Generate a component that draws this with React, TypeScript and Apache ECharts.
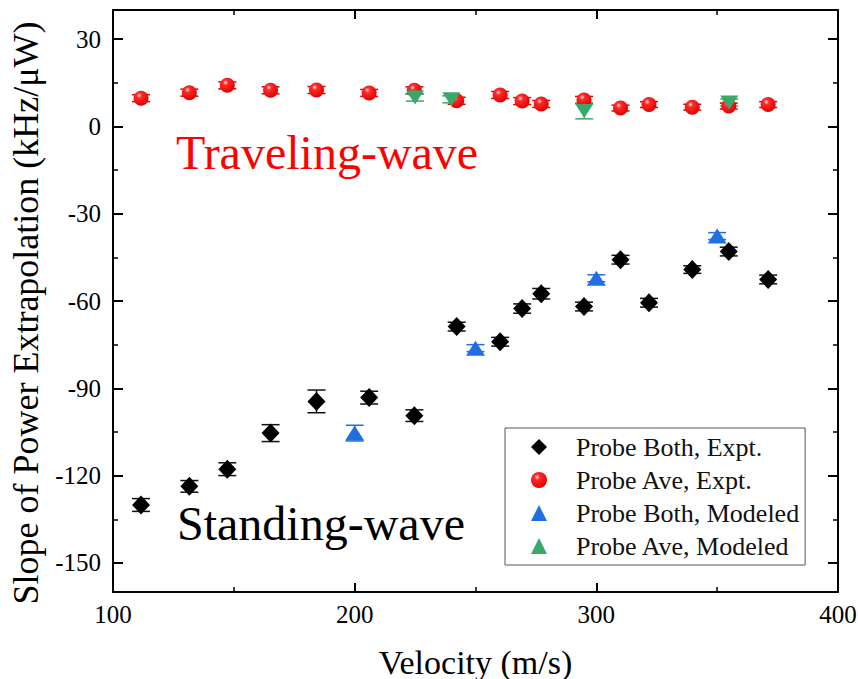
import React, { useEffect, useRef } from "react";
import * as echarts from "echarts";

const velocity = [111.6, 131.6, 147.3, 165.2, 184.2, 206.0, 224.7, 242.2, 260.2, 269.3, 277.2, 294.9, 310.0, 321.8, 339.7, 354.8, 371.1];
const bothExptY = [-130.1, -123.7, -117.8, -105.4, -94.5, -93.2, -99.4, -68.8, -74.0, -62.6, -57.5, -61.9, -45.8, -60.6, -49.2, -43.0, -52.6];
const bothExptErr = [2.2, 2.0, 2.2, 2.9, 3.9, 2.2, 2.0, 1.5, 1.5, 1.6, 1.8, 1.5, 1.5, 1.5, 1.3, 1.5, 1.5];
const aveExptY = [9.7, 11.6, 14.1, 12.4, 12.5, 11.5, 12.4, 8.8, 10.8, 8.7, 7.7, 9.1, 6.3, 7.5, 6.6, 7.0, 7.5];
const aveExptErr = [1.2, 1.2, 1.2, 1.2, 1.2, 1.2, 1.2, 1.2, 1.2, 1.2, 1.2, 1.2, 1.0, 1.0, 1.0, 1.0, 1.0];

const bothModeledX = [200, 250, 300, 350];
const bothModeledY = [-105.4, -76.2, -52.2, -37.7];
const bothModeledErr = [2.7, 1.2, 1.2, 1.2];

const aveModeledX = [225, 240, 295, 355];
const aveModeledY = [9.9, 9.3, 5.3, 8.2];
const aveModeledErr = [1.2, 1.2, 2.7, 1.2];

const yMajorTicks = [-150, -120, -90, -60, -30, 0, 30];
const yMinorTicks = [-135, -105, -75, -45, -15, 15];

const seriesNames = ["Probe Both, Expt.", "Probe Ave, Expt.", "Probe Both, Modeled", "Probe Ave, Modeled"];

const FONT = "Liberation Serif, Times New Roman, serif";

function pts(xs: number[], ys: number[]) {
  return xs.map((x, i) => [x, ys[i]]);
}
function errPts(xs: number[], ys: number[], es: number[]) {
  return xs.map((x, i) => [x, ys[i], es[i]]);
}

function errorSeries(name: string, data: number[][], color: string) {
  return {
    type: "custom",
    name,
    silent: true,
    z: 1,
    encode: { x: 0, y: 1 },
    data,
    renderItem: (params: any, api: any) => {
      const x = api.value(0);
      const y = api.value(1);
      const e = api.value(2);
      const top = api.coord([x, y + e]);
      const bot = api.coord([x, y - e]);
      const hw = 9;
      const st = { stroke: color, lineWidth: 1.5 };
      return {
        type: "group",
        children: [
          { type: "line", shape: { x1: top[0], y1: top[1], x2: bot[0], y2: bot[1] }, style: st },
          { type: "line", shape: { x1: top[0] - hw, y1: top[1], x2: top[0] + hw, y2: top[1] }, style: st },
          { type: "line", shape: { x1: bot[0] - hw, y1: bot[1], x2: bot[0] + hw, y2: bot[1] }, style: st },
        ],
      };
    },
  };
}

export default function App() {
  const ref = useRef<HTMLDivElement>(null);
  useEffect(() => {
    if (!ref.current) return;
    const chart = echarts.init(ref.current, null, { renderer: "svg" });
    const axisLine = { show: true, onZero: false, lineStyle: { color: "#000", width: 2 } };
    const noLine = { show: false, onZero: false };
    const redGrad = {
      type: "radial",
      x: 0.38,
      y: 0.32,
      r: 0.7,
      colorStops: [
        { offset: 0, color: "#ffe0e0" },
        { offset: 0.25, color: "#ff2a2a" },
        { offset: 1, color: "#e00000" },
      ],
    };
    const option: any = {
      animation: false,
      backgroundColor: "#fff",
      textStyle: { fontFamily: FONT },
      grid: { left: 113, right: 20, top: 10, bottom: 87, containLabel: false, outerBoundsMode: "none" },
      legend: {
        data: seriesNames,
        orient: "vertical",
        left: 505,
        top: 428,
        itemWidth: 16,
        itemHeight: 16,
        itemGap: 7,
        padding: [6, 6, 6, 26],
        borderColor: "#555",
        borderWidth: 1,
        textStyle: { fontFamily: FONT, fontSize: 26, lineHeight: 26, color: "#111", padding: [0, 0, 0, 24] },
      },
      xAxis: [
        {
          type: "value",
          position: "bottom",
          min: 100,
          max: 400,
          interval: 100,
          axisLine,
          axisTick: { show: true, inside: true, length: 9, lineStyle: { color: "#000", width: 2 } },
          minorTick: { show: true, splitNumber: 2, length: 5, lineStyle: { color: "#000", width: 1.5 } },
          splitLine: { show: false },
          axisLabel: { color: "#000", fontSize: 25, fontFamily: FONT, margin: 10 },
          name: "Velocity (m/s)",
          nameLocation: "middle",
          nameGap: 53,
          nameTextStyle: { color: "#000", fontSize: 34, fontFamily: FONT },
        },
        {
          type: "value",
          position: "top",
          min: 100,
          max: 400,
          interval: 100,
          axisLine,
          axisTick: { show: true, inside: true, length: 9, lineStyle: { color: "#000", width: 2 } },
          minorTick: { show: true, splitNumber: 2, length: 5, lineStyle: { color: "#000", width: 1.5 } },
          splitLine: { show: false },
          axisLabel: { show: false },
        },
      ],
      yAxis: [
        {
          type: "value",
          position: "left",
          min: -160,
          max: 40,
          axisLine,
          axisTick: { show: true, inside: true, length: 10, customValues: yMajorTicks, lineStyle: { color: "#000", width: 2 } },
          splitLine: { show: false },
          axisLabel: { color: "#000", fontSize: 25, fontFamily: FONT, margin: 12, customValues: yMajorTicks },
          name: "Slope of Power Extrapolation (kHz/\u03bcW)",
          nameLocation: "middle",
          nameGap: 51,
          nameTextStyle: { color: "#000", fontSize: 36, fontFamily: FONT, padding: [0, 24, 0, 0] },
        },
        {
          type: "value",
          position: "left",
          min: -160,
          max: 40,
          axisLine: noLine,
          axisTick: { show: true, inside: true, length: 5, customValues: yMinorTicks, lineStyle: { color: "#000", width: 1.5 } },
          splitLine: { show: false },
          axisLabel: { show: false },
        },
        {
          type: "value",
          position: "right",
          min: -160,
          max: 40,
          axisLine,
          axisTick: { show: true, inside: true, length: 10, customValues: yMajorTicks, lineStyle: { color: "#000", width: 2 } },
          splitLine: { show: false },
          axisLabel: { show: false },
        },
        {
          type: "value",
          position: "right",
          min: -160,
          max: 40,
          axisLine: noLine,
          axisTick: { show: true, inside: true, length: 5, customValues: yMinorTicks, lineStyle: { color: "#000", width: 1.5 } },
          splitLine: { show: false },
          axisLabel: { show: false },
        },
      ],
      graphic: [
        {
          type: "text",
          left: 176,
          top: 128,
          style: { text: "Traveling-wave", fill: "#ff0000", fontSize: 48, fontFamily: FONT },
        },
        {
          type: "text",
          left: 177,
          top: 499,
          style: { text: "Standing-wave", fill: "#000", fontSize: 48, fontFamily: FONT },
        },
      ],
      series: [
        errorSeries("errBothExpt", errPts(velocity, bothExptY, bothExptErr), "#111"),
        errorSeries("errAveExpt", errPts(velocity, aveExptY, aveExptErr), "#e00000"),
        errorSeries("errBothMod", errPts(bothModeledX, bothModeledY, bothModeledErr), "#1f6fe0"),
        errorSeries("errAveMod", errPts(aveModeledX, aveModeledY, aveModeledErr), "#3aa86a"),
        {
          type: "scatter",
          name: seriesNames[0],
          symbol: "diamond",
          symbolSize: [18, 19],
          itemStyle: { color: "#000", opacity: 1 },
          z: 3,
          data: pts(velocity, bothExptY),
        },
        {
          type: "scatter",
          name: seriesNames[1],
          symbol: "circle",
          symbolSize: 15,
          itemStyle: { color: redGrad, opacity: 1 },
          z: 3,
          data: pts(velocity, aveExptY),
        },
        {
          type: "scatter",
          name: seriesNames[2],
          symbol: "triangle",
          symbolSize: [19, 15],
          itemStyle: { color: "#1f6fe0", opacity: 1 },
          z: 3,
          data: pts(bothModeledX, bothModeledY),
        },
        {
          type: "scatter",
          name: seriesNames[3],
          symbol: "triangle",
          symbolRotate: 180,
          symbolSize: [18, 14],
          itemStyle: { color: "#3aa86a", opacity: 1 },
          z: 3,
          data: pts(aveModeledX, aveModeledY),
        },
      ],
    };
    chart.setOption(option);
    return () => chart.dispose();
  }, []);
  return (
    <div
      ref={ref}
      style={{ position: "fixed", left: 0, top: 0, width: 858, height: 679, background: "#fff" }}
    />
  );
}
